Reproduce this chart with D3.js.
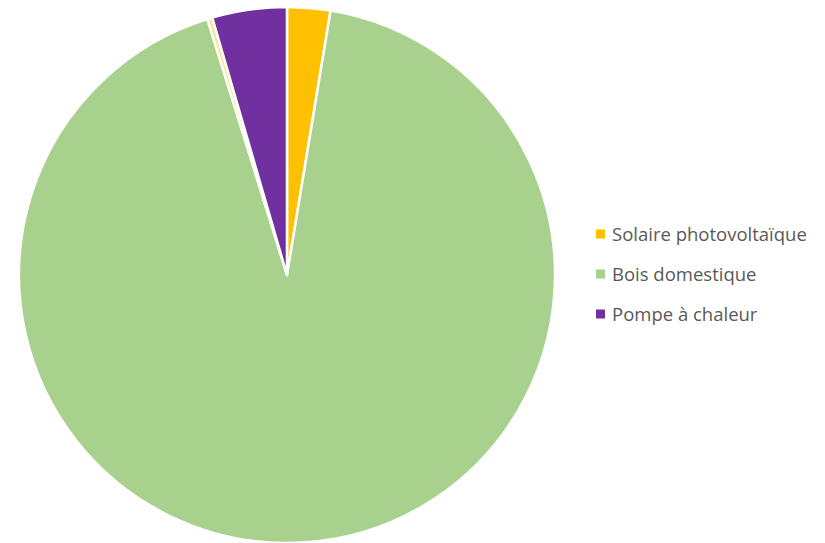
<!DOCTYPE html>
<html>
<head>
<meta charset="utf-8">
<script src="https://cdn.jsdelivr.net/npm/d3@7"></script>
<style>
  body { margin: 0; background: #fff; }
</style>
</head>
<body>
<div id="chart"></div>
<script>
// slice data, clockwise from 12 o'clock
const categories = ["Solaire photovoltaïque", "Bois domestique", "", "Pompe à chaleur"];
const values = [2.6, 92.6, 0.3, 4.5];
const colors = ["#FFC000", "#A9D18E", "#FFE28A", "#7030A0"];
const legendItems = [0, 1, 3];

const width = 825, height = 543;
const cx = 287, cy = 275, radius = 268;

const svg = d3.select("#chart").append("svg")
    .attr("width", width)
    .attr("height", height);

const pie = d3.pie().sort(null).value(d => d.value);
const arc = d3.arc().innerRadius(0).outerRadius(radius);

const data = categories.map((c, i) => ({ name: c, value: values[i], color: colors[i] }));

const g = svg.append("g").attr("transform", `translate(${cx},${cy})`);
g.selectAll("path")
    .data(pie(data))
    .join("path")
    .attr("d", arc)
    .attr("fill", d => d.data.color)
    .attr("stroke", "#fff")
    .attr("stroke-width", 2.5)
    .attr("stroke-linejoin", "round");

// legend
const legend = svg.append("g").attr("transform", "translate(596,234)");
legendItems.forEach((idx, i) => {
    const row = legend.append("g").attr("transform", `translate(0,${i * 40})`);
    row.append("rect")
        .attr("x", 0).attr("y", -4.5)
        .attr("width", 9).attr("height", 9)
        .attr("fill", colors[idx]);
    row.append("text")
        .attr("x", 16).attr("y", 0)
        .attr("dy", "0.36em")
        .attr("font-family", "'Open Sans', sans-serif")
        .attr("font-size", 18.5)
        .attr("fill", "#595959")
        .text(categories[idx]);
});
</script>
</body>
</html>
